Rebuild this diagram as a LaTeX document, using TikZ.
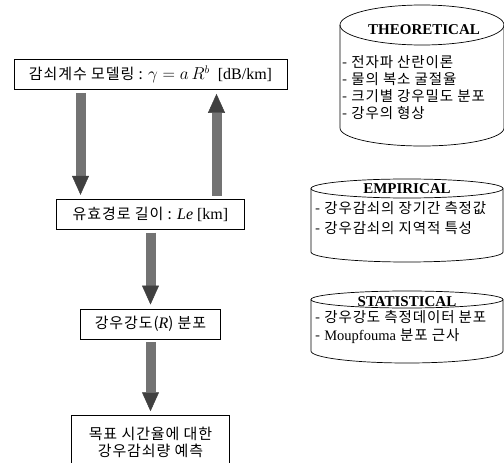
\documentclass[tikz,border=0pt]{standalone}
\usepackage{fontspec}
\setmainfont{Liberation Serif}
\newfontfamily\kr[LetterSpace=6]{Noto Sans CJK KR}
\usetikzlibrary{arrows.meta, positioning}

\begin{document}
\begin{tikzpicture}[x=1pt, y=-1pt,
  % Define the style of the boxes on the left
  stage/.style={rectangle, draw, line width=0.7pt, minimum height=30pt, inner xsep=5pt, font=\fontsize{16}{17}\selectfont},
  % Define the style of the Korean text in the boxes
  krbox/.style={font=\kr\fontsize{15}{17}\selectfont},
  % Define the style of the thick shaded arrows
  flow/.style={line width=10pt, draw=black!55, shorten <=3pt, shorten >=4pt,
    -{Triangle[width=17pt, length=19pt, line width=0.5pt, color=black!75, fill=black!75]}},
  % Define the style of the drum outlines
  drumline/.style={line width=0.7pt},
  % Define the style of the drum titles and lists
  drumtitle/.style={font=\bfseries\fontsize{15}{17}\selectfont},
  drumtext/.style={anchor=north west, align=left, inner sep=0pt, font=\kr\fontsize{14.5}{17}\selectfont}
  ]

  \useasboundingbox (0,0) rectangle (504,463);

  % Flow on the left
  \node[stage, minimum width=273pt] (model) at (150.5,74.5)
    {{\kr\fontsize{15}{17}\selectfont 감쇠계수 모델링 :} $\gamma = a\,R^{b}$ \ [dB/km]};
  \node[stage, minimum width=188pt, below=109pt of model] (leff)
    {{\kr\fontsize{15}{17}\selectfont 유효경로 길이 :} \textit{Le} [km]};
  \node[stage, minimum width=140pt, below=79pt of leff] (rdist)
    {{\kr\fontsize{15}{17}\selectfont 강우강도(}\textit{R}{\kr\fontsize{15}{17}\selectfont ) 분포}};
  \node[stage, krbox, minimum width=158pt, minimum height=53pt, align=center, below=76pt of rdist] (pred)
    {목표 시간율에 대한\\강우감쇠량 예측};

  % Arrows between the boxes
  \draw[flow] ([xshift=-70pt]model.south) -- ([xshift=-70pt]model.south |- leff.north);
  \draw[flow] ([xshift=66pt]model.south |- leff.north) -- ([xshift=66pt]model.south);
  \draw[flow] (leff) -- (rdist);
  \draw[flow] (rdist) -- (pred);

  % Drums on the right
  \foreach \cx/\rx/\yt/\ry/\yb/\rb in {422/82/5/20/146/18, 407/96/179/9.5/262/10, 407/96/291/8.5/363/12} {
    \draw[drumline] (\cx-\rx,\yt+\ry) -- (\cx-\rx,\yb-\rb)
      arc[start angle=180, end angle=0, x radius=\rx, y radius=\rb] -- (\cx+\rx,\yt+\ry);
    \draw[drumline] (\cx,\yt+\ry) ellipse[x radius=\rx, y radius=\ry];
  }

  \node[drumtitle] (theotitle) at (424,30) {THEORETICAL};
  \node[drumtext] (theolist) at (342,55.5)
    {- 전자파 산란이론\\- 물의 복소 굴절율\\- 크기별 강우밀도 분포\\- 강우의 형상};
  \node[drumtitle] (emptitle) at (407,189) {EMPIRICAL};
  \node[drumtext] (emplist) at (315,201.5)
    {- 강우감쇠의 장기간 측정값\\[3pt]- 강우감쇠의 지역적 특성};
  \node[drumtitle] (stattitle) at (407,302) {STATISTICAL};
  \node[drumtext] (statlist) at (315,310.5)
    {- 강우강도 측정데이터 분포\\[1pt]- {\rmfamily Moupfouma} 분포 근사};
\end{tikzpicture}
\end{document}
